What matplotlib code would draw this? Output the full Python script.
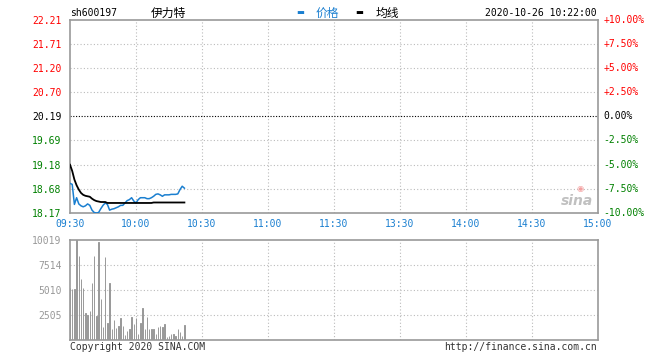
import matplotlib
matplotlib.use("Agg")
import matplotlib.pyplot as plt
import matplotlib.transforms as mtransforms

# ---------------- data ----------------
code = "sh600197"
name = "伊力特"
stamp = "2020-10-26 10:22:00"
time_labels = ["09:30", "10:00", "10:30", "11:00", "11:30", "13:30", "14:00", "14:30", "15:00"]
price_levels = [22.21, 21.71, 21.20, 20.70, 20.19, 19.69, 19.18, 18.68, 18.17]
pct_labels = ["+10.00%", "+7.50%", "+5.00%", "+2.50%", "0.00%", "-2.50%", "-5.00%", "-7.50%", "-10.00%"]
vol_levels = [10019, 7514, 5010, 2505]

price = [18.79, 18.77, 18.35, 18.49, 18.36, 18.32, 18.30, 18.32, 18.36, 18.33,
         18.23, 18.18, 18.17, 18.18, 18.26, 18.33, 18.38, 18.35, 18.23, 18.25,
         18.26, 18.28, 18.30, 18.33, 18.33, 18.38, 18.43, 18.45, 18.49, 18.42,
         18.38, 18.45, 18.49, 18.49, 18.49, 18.47, 18.47, 18.49, 18.52, 18.56,
         18.57, 18.55, 18.52, 18.55, 18.55, 18.55, 18.56, 18.56, 18.56, 18.57,
         18.66, 18.73, 18.69]
avg = [19.18, 19.05, 18.87, 18.75, 18.66, 18.59, 18.55, 18.53, 18.52, 18.51,
       18.47, 18.44, 18.42, 18.41, 18.40, 18.40, 18.40, 18.38, 18.38, 18.38,
       18.38, 18.38, 18.38, 18.38, 18.38, 18.38, 18.38, 18.38, 18.38, 18.38,
       18.38, 18.38, 18.38, 18.38, 18.38, 18.38, 18.38, 18.38, 18.39, 18.39,
       18.39, 18.39, 18.39, 18.39, 18.39, 18.39, 18.39, 18.39, 18.39, 18.39,
       18.39, 18.39, 18.39]
volume = [5243, 5076, 5076, 10019, 8450, 6112, 5243, 2738, 2505, 2939,
          5744, 8450, 2405, 9785, 4108, 1336, 8349, 1737, 5744, 1102,
          2004, 1236, 1436, 2238, 1436, 501, 935, 1102, 2338, 1603,
          2238, 601, 1737, 3239, 1102, 2338, 1102, 1069, 1102, 601,
          1269, 1403, 1336, 1603, 334, 401, 601, 601, 401, 1102,
          835, 401, 1503]

# ---------------- style ----------------
W, H = 660, 360
RED = "#ff0000"
GREEN = "#008000"
BLUE = "#1a7fd0"
GREY = "#999999"
GRID = "#bbbbbb"
MONO = ["DejaVu Sans Mono"]
CJK = ["Noto Sans CJK SC", "DejaVu Sans"]

fig = plt.figure(figsize=(W / 100, H / 100), dpi=100)
fig.patch.set_facecolor("white")

def box(x0, y0, x1, y1):
    return [x0 / W, 1 - y1 / H, (x1 - x0) / W, (y1 - y0) / H]

axp = fig.add_axes(box(70, 20, 598, 213))
axv = fig.add_axes(box(70, 240, 598, 340))

minutes = list(range(len(price)))
xt = [30 * i for i in range(len(time_labels))]

for ax in (axp, axv):
    ax.set_xlim(0, 240)
    for s in ax.spines.values():
        s.set_color(GREY)
        s.set_linewidth(1.2)
    ax.tick_params(length=0)
    for x in xt[1:-1]:
        ax.axvline(x, color=GRID, lw=0.8, ls=(0, (1, 2)), zorder=0)

# price panel
axp.set_ylim(price_levels[-1], price_levels[0])
for lv in price_levels[1:-1]:
    if lv == price_levels[4]:
        axp.axhline(lv, color="#000000", lw=0.8, ls=(0, (1, 1.5)), zorder=0)
    else:
        axp.axhline(lv, color=GRID, lw=0.8, ls=(0, (1, 2)), zorder=0)
axp.plot(minutes, price, color=BLUE, lw=1.1, zorder=3)
axp.plot(minutes, avg, color="#000000", lw=1.3, zorder=3)

axp.set_yticks(price_levels)
axp.set_yticklabels([f"{v:.2f}" for v in price_levels], fontfamily=MONO, fontsize=7)
for i, lab in enumerate(axp.get_yticklabels()):
    lab.set_color(RED if i < 4 else ("#000000" if i == 4 else GREEN))
axp.tick_params(axis="y", pad=6)

tr = mtransforms.blended_transform_factory(axp.transAxes, axp.transData)
for i, (lv, t) in enumerate(zip(price_levels, pct_labels)):
    c = RED if i < 4 else ("#000000" if i == 4 else GREEN)
    axp.text(1.01, lv, t, transform=tr, ha="left", va="center", color=c,
             fontfamily=MONO, fontsize=7)

axp.set_xticks(xt)
axp.set_xticklabels(time_labels, fontfamily=MONO, fontsize=7, color=BLUE)
axp.tick_params(axis="x", pad=4)

# volume panel
axv.set_ylim(0, vol_levels[0])
for lv in vol_levels[1:]:
    axv.axhline(lv, color=GRID, lw=0.8, ls=(0, (1, 2)), zorder=0)
axv.bar(minutes, volume, width=0.2, color=GREY, edgecolor=GREY, linewidth=0.7,
        align="center", zorder=2)
axv.set_yticks(vol_levels)
axv.set_yticklabels([str(v) for v in vol_levels], fontfamily=MONO, fontsize=7, color=GREY)
axv.tick_params(axis="y", pad=6)
axv.set_xticks([])

# header texts
fig.text(70 / W, 1 - 13 / H, code, fontfamily=MONO, fontsize=7, va="center", ha="left")
fig.text(151 / W, 1 - 13 / H, name, fontfamily=CJK, fontsize=8.5, va="center", ha="left")
fig.text(296 / W, 1 - 12 / H, "▬", fontfamily=["DejaVu Sans"], fontsize=6, va="center", ha="left", color=BLUE)
fig.text(316 / W, 1 - 13 / H, "价格", fontfamily=CJK, fontsize=8.5, va="center", ha="left", color=BLUE)
fig.text(355 / W, 1 - 12 / H, "▬", fontfamily=["DejaVu Sans"], fontsize=6, va="center", ha="left", color="#000000")
fig.text(376 / W, 1 - 13 / H, "均线", fontfamily=CJK, fontsize=8.5, va="center", ha="left", color="#000000")
fig.text(597 / W, 1 - 13 / H, stamp, fontfamily=MONO, fontsize=7, va="center", ha="right")

# footer texts
fig.text(70 / W, 1 - 347 / H, "Copyright 2020 SINA.COM", fontfamily=MONO, fontsize=7, va="center", ha="left", color="#333333")
fig.text(597 / W, 1 - 347 / H, "http://finance.sina.com.cn", fontfamily=MONO, fontsize=7, va="center", ha="right", color="#333333")

# watermark
fig.text(577 / W, 1 - 201 / H, "sina", fontfamily=["DejaVu Sans"], fontsize=10, fontweight="bold",
         fontstyle="italic", va="center", ha="center", color="#c0c0c0")
fig.text(580 / W, 1 - 188 / H, "◉", fontfamily=["DejaVu Sans"], fontsize=6, va="center", ha="center", color="#f4a0a0")

fig.savefig("out.png", dpi=100)
